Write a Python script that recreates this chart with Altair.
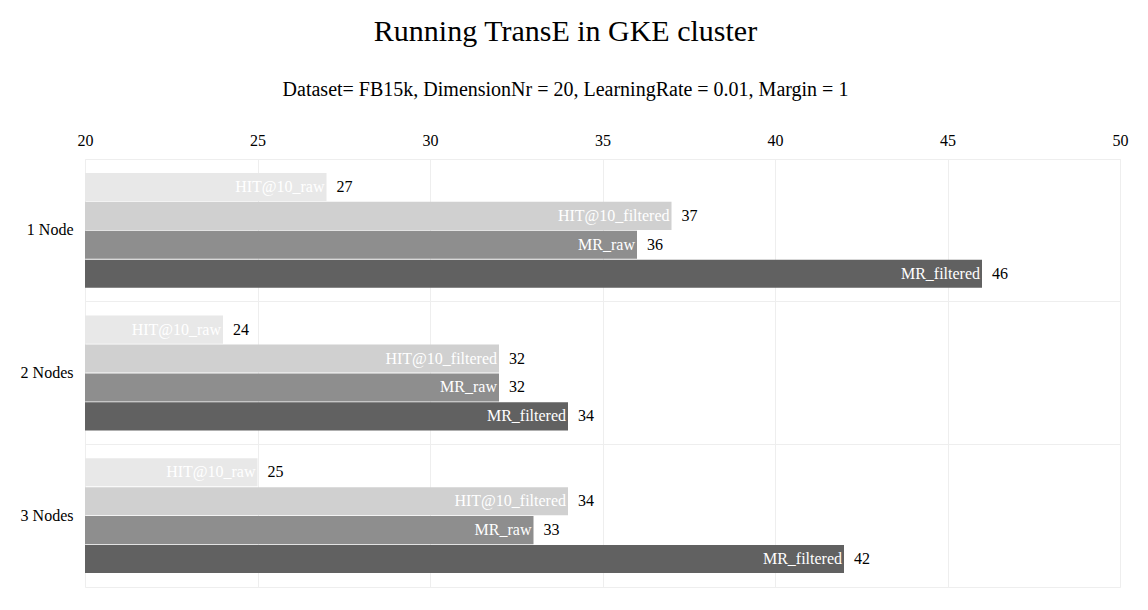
import altair as alt
import pandas as pd

nodes = ["1 Node", "2 Nodes", "3 Nodes"]
series = ["HIT@10_raw", "HIT@10_filtered", "MR_raw", "MR_filtered"]
values = {
    "1 Node": [27, 37, 36, 46],
    "2 Nodes": [24, 32, 32, 34],
    "3 Nodes": [25, 34, 33, 42],
}
colors = ["#e8e8e8", "#d0d0d0", "#8e8e8e", "#616161"]
x_ticks = [20, 25, 30, 35, 40, 45, 50]

rows = []
for n in nodes:
    for s, v in zip(series, values[n]):
        rows.append({"node": n, "series": s, "value": v})
df = pd.DataFrame(rows)

FONT = "Liberation Serif"

y_enc = alt.Y("node:N", sort=nodes, title=None,
              scale=alt.Scale(paddingInner=0, paddingOuter=0),
              axis=alt.Axis(ticks=False, domain=False, labelPadding=12,
                            labelFontSize=16, labelFont=FONT, labelColor="#000",
                            grid=True, bandPosition=0, gridColor="#eeeeee"))
yoff = alt.YOffset("series:N", sort=series,
                   scale=alt.Scale(paddingInner=0.03, paddingOuter=0.48))
x_scale = alt.Scale(domain=[20, 50], zero=False, nice=False)

base = alt.Chart(df)

bars = base.mark_bar().encode(
    y=y_enc,
    yOffset=yoff,
    x=alt.X("value:Q", scale=x_scale, title=None,
            axis=alt.Axis(orient="top", values=x_ticks, ticks=False, domain=False,
                          labelFontSize=16, labelFont=FONT, labelColor="#000",
                          labelFlush=False, labelPadding=11, gridColor="#eeeeee")),
    x2=alt.datum(20),
    color=alt.Color("series:N", sort=series,
                    scale=alt.Scale(domain=series, range=colors), legend=None),
)

inner = base.mark_text(align="right", baseline="middle", dx=-2, fontSize=16,
                       font=FONT, color="white").encode(
    y=alt.Y("node:N", sort=nodes),
    yOffset=yoff,
    x=alt.X("value:Q", scale=x_scale),
    text="series:N",
)

outer = base.mark_text(align="left", baseline="middle", dx=10, fontSize=16,
                       font=FONT, color="black").encode(
    y=alt.Y("node:N", sort=nodes),
    yOffset=yoff,
    x=alt.X("value:Q", scale=x_scale),
    text="value:Q",
)

chart = alt.layer(bars, inner, outer).properties(
    width=1035,
    height=428,
    title=alt.TitleParams(
        text="Running TransE in GKE cluster",
        subtitle="Dataset= FB15k, DimensionNr = 20, LearningRate = 0.01, Margin = 1",
        font=FONT, fontSize=30, fontWeight="normal", color="#000",
        subtitleFont=FONT, subtitleFontSize=20, subtitleColor="#000",
        subtitlePadding=33, anchor="middle", dx=-37, offset=32,
    ),
    autosize=alt.AutoSizeParams(type="none"),
    padding={"left": 85, "top": 159, "right": 28, "bottom": 23},
).configure_view(stroke="#eeeeee")

chart.save("out.html", embed_options={"renderer": "svg", "actions": False})
